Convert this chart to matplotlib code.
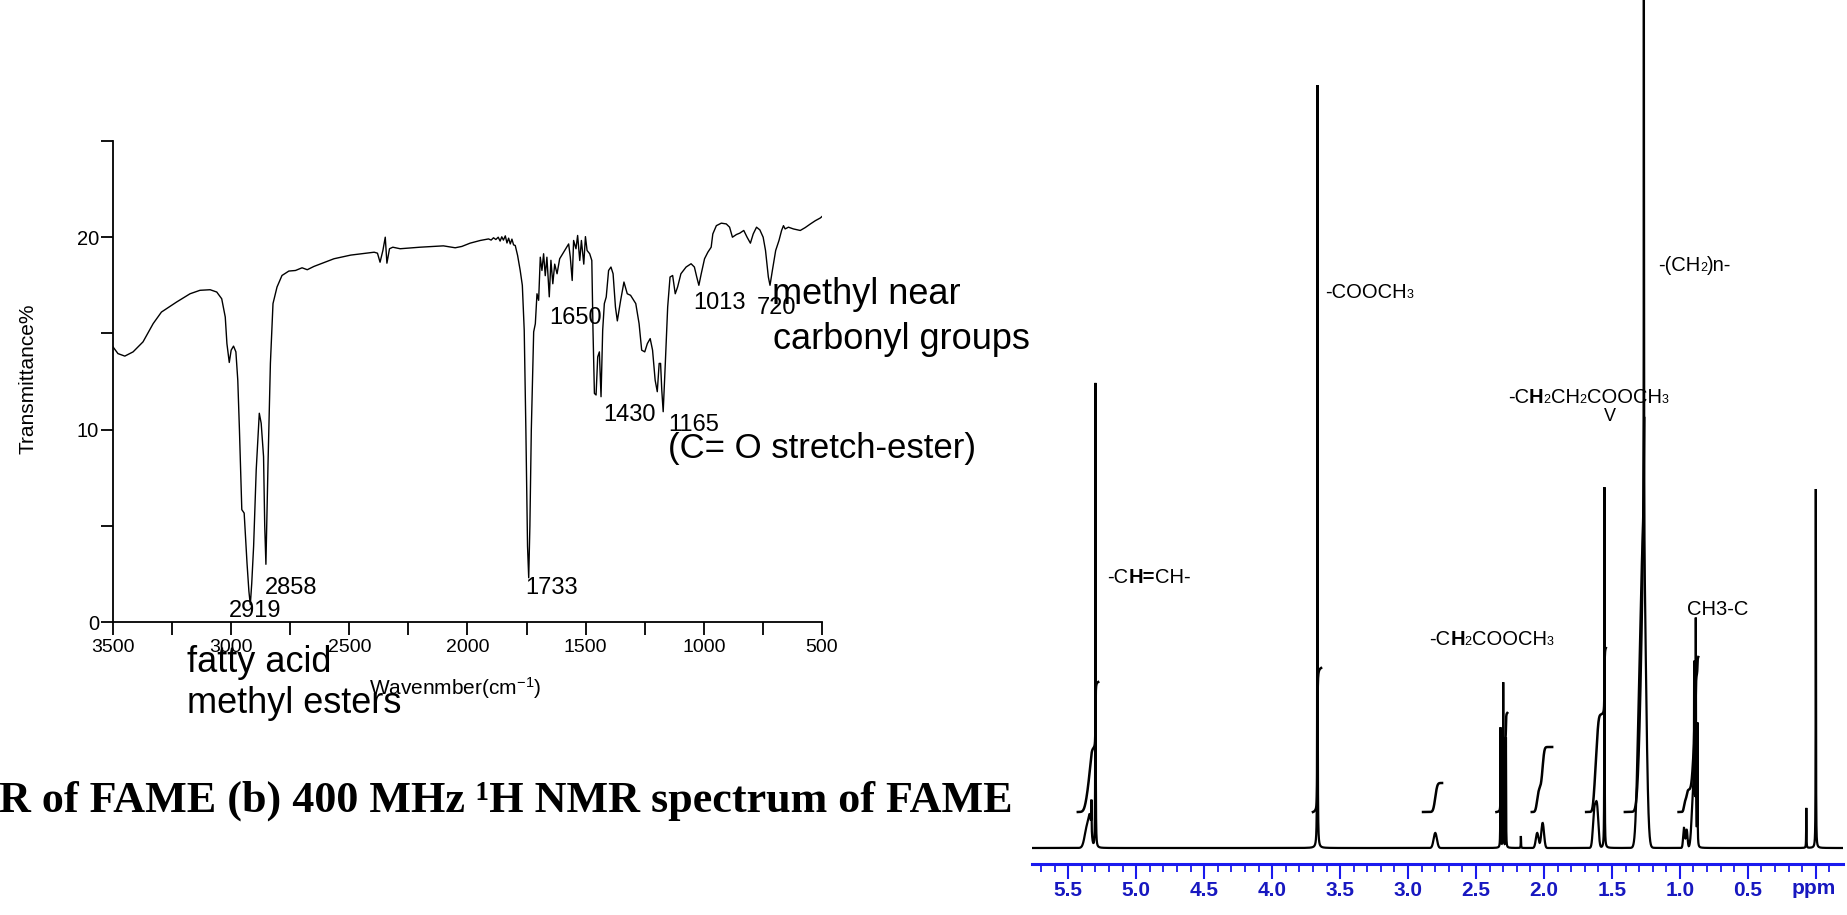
import numpy as np
import matplotlib
matplotlib.use("Agg")
import matplotlib.pyplot as plt
from matplotlib import font_manager
from matplotlib.transforms import IdentityTransform
from matplotlib.ticker import FixedLocator

W, H = 1847, 915
plt.rcParams['mathtext.fontset'] = 'custom'
plt.rcParams['mathtext.rm'] = 'Liberation Sans'
plt.rcParams['mathtext.it'] = 'Liberation Sans'

names = {f.name for f in font_manager.fontManager.ttflist}
SANS = 'Liberation Sans' if 'Liberation Sans' in names else 'DejaVu Sans'
NARROW = 'Liberation Sans Narrow' if 'Liberation Sans Narrow' in names else SANS
SERIF = 'Liberation Serif' if 'Liberation Serif' in names else 'DejaVu Serif'

# ---------------- IR data (wavenumber cm-1, transmittance %) ----------------
ir_wn = [3500, 3479, 3450, 3415, 3373, 3330, 3295, 3231, 3174, 3132, 3089, 3061, 3040,
         3025, 3018, 3008, 3000, 2990, 2980, 2972, 2965, 2955, 2945, 2933, 2925, 2919,
         2913, 2905, 2894, 2881, 2873, 2863, 2858, 2853, 2844, 2834, 2823, 2806, 2785,
         2756, 2728, 2700, 2678, 2650, 2565, 2494, 2395, 2381, 2370, 2358, 2348, 2341,
         2330, 2316, 2285, 2201, 2102, 2052, 2024, 1989, 1946, 1911, 1900, 1890, 1880,
         1870, 1862, 1855, 1848, 1840, 1833, 1826, 1819, 1812, 1805, 1798, 1788, 1777,
         1768, 1760, 1753, 1746, 1741, 1736, 1730, 1720, 1713, 1706, 1699, 1692, 1685,
         1678, 1671, 1664, 1654, 1647, 1639, 1631, 1621, 1610, 1593, 1572, 1565, 1557,
         1551, 1541, 1534, 1525, 1518, 1508, 1501, 1494, 1483, 1474, 1469, 1463, 1456,
         1449, 1442, 1435, 1428, 1421, 1413, 1403, 1393, 1384, 1374, 1366, 1352, 1338,
         1324, 1310, 1288, 1274, 1263, 1250, 1239, 1227, 1217, 1206, 1197, 1189, 1183,
         1178, 1172, 1163, 1153, 1143, 1132, 1121, 1111, 1097, 1075, 1054, 1040, 1030,
         1021, 1011, 997, 983, 969, 962, 947, 926, 905, 891, 879, 862, 848, 831, 817,
         803, 791, 777, 763, 749, 739, 727, 720, 710, 696, 682, 671, 663, 656, 642, 621,
         592, 571, 549, 528, 507, 496]
ir_t = [14.30, 13.95, 13.82, 14.04, 14.56, 15.51, 16.11, 16.63, 17.06, 17.24, 17.27, 17.15,
        16.80, 15.85, 14.47, 13.49, 14.13, 14.34, 14.04, 12.57, 9.98, 5.84, 5.66, 3.07,
        1.6, 0.9, 2.0, 3.94, 7.91, 10.85, 10.33, 8.6, 5.0, 3.0, 8.26, 13.44, 16.55, 17.41,
        18.01, 18.24, 18.27, 18.41, 18.31, 18.48, 18.88, 19.07, 19.22, 19.17, 18.7, 19.31,
        20.0, 18.65, 19.40, 19.48, 19.40, 19.48, 19.55, 19.45, 19.52, 19.69, 19.83, 19.91,
        19.85, 19.97, 19.88, 20.0, 19.8, 20.02, 19.85, 20.07, 19.7, 19.95, 19.65, 19.9,
        19.6, 19.57, 19.05, 18.27, 17.5, 15.16, 9.98, 3.94, 2.3, 5.0, 9.98, 15.08, 15.5,
        17.06, 16.72, 18.96, 18.27, 19.14, 18.0, 18.96, 16.9, 18.8, 17.58, 18.6, 18.1,
        18.88, 19.22, 19.65, 18.96, 17.75, 19.83, 19.40, 20.09, 18.79, 19.83, 18.6, 20.03,
        19.31, 19.14, 18.79, 15.16, 11.88, 11.8, 13.78, 14.04, 11.71, 15.16, 16.55, 16.89,
        18.27, 18.45, 18.1, 16.37, 15.65, 16.72, 17.67, 17.06, 16.98, 16.55, 15.51, 14.13,
        14.04, 14.47, 14.73, 14.13, 12.57, 11.97, 13.44, 13.44, 12.06, 10.93, 13.44, 16.37,
        17.93, 18.01, 17.06, 17.41, 18.1, 18.45, 18.62, 18.45, 17.93, 17.5, 18.1, 18.88,
        19.22, 19.48, 20.17, 20.6, 20.73, 20.69, 20.52, 20.0, 20.14, 20.21, 20.35, 20.0,
        19.69, 20.17, 20.52, 20.38, 20.0, 19.31, 17.93, 17.5, 18.27, 19.31, 19.83, 20.35,
        20.6, 20.43, 20.52, 20.43, 20.35, 20.5, 20.69, 20.86, 21.0, 21.12]

ir_xticks = [3500, 3000, 2500, 2000, 1500, 1000, 500]
ir_yticks = [0, 10, 20]
ir_peak_labels = ['2919', '2858', '1733', '1650', '1430', '1165', '1013', '720']

# ---------------- NMR data (ppm, height) ----------------
sharp_ppm = [5.300, 5.330, 3.667, 2.320, 2.300, 2.280, 2.170, 1.555, 1.265, 0.895, 0.883,
             0.871, 0.070, 0.000]
sharp_h = [465, 30, 763, 120, 165, 110, 12, 361, 560, 130, 206, 120, 40, 359]
broad_ppm = [5.36, 5.34, 2.80, 2.05, 2.01, 1.63, 1.61, 1.30, 1.268, 0.97, 0.95, 0.90]
broad_h = [22, 20, 15, 15, 25, 35, 40, 110, 290, 20, 18, 60]
broad_w = [0.018, 0.010, 0.012, 0.010, 0.010, 0.010, 0.010, 0.016, 0.018, 0.006, 0.006, 0.012]

# integrals: left ppm, right ppm, start height, end height
int_left = [5.43, 3.70, 2.89, 2.35, 2.09, 1.69, 1.405, 1.01]
int_right = [5.28, 3.64, 2.75, 2.27, 1.94, 1.545, 1.262, 0.865]
int_low = [36, 36, 36, 36, 36, 36, 36, 36]
int_high = [166, 180, 65, 135, 101, 200, 430, 191]

nmr_major = [5.5, 5.0, 4.5, 4.0, 3.5, 3.0, 2.5, 2.0, 1.5, 1.0, 0.5, 0.0]
nmr_major_labels = ['5.5', '5.0', '4.5', '4.0', '3.5', '3.0', '2.5', '2.0', '1.5', '1.0', '0.5', '']

caption = "R of FAME (b) 400 MHz \u00b9H NMR spectrum of FAME"

# ---------------- figure ----------------
fig = plt.figure(figsize=(W / 100, H / 100), dpi=100)
fig.patch.set_facecolor('white')
renderer = fig.canvas.get_renderer()


def fx(x):
    return x / W


def fy(y):
    return 1 - y / H


# IR axes
L, R, B, T = 113, 822, 622, 141
ax = fig.add_axes([fx(L), fy(B), (R - L) / W, (B - T) / H])
ax.plot(ir_wn, ir_t, color='black', lw=1.0)
ax.set_xlim(3500, 500)
ax.set_ylim(0, 25)
for s in ['top', 'right']:
    ax.spines[s].set_visible(False)
for s in ['left', 'bottom']:
    ax.spines[s].set_linewidth(1.3)
ax.set_xticks(ir_xticks)
ax.set_xticklabels([str(v) for v in ir_xticks])
ax.xaxis.set_minor_locator(FixedLocator([3250, 2750, 2250, 1750, 1250, 750]))
ax.set_yticks(ir_yticks)
ax.set_yticklabels([str(v) for v in ir_yticks])
ax.yaxis.set_minor_locator(FixedLocator([5, 15, 25]))
ax.tick_params(which='both', direction='out', length=9, width=1.3)
ax.tick_params(axis='x', which='major', labelsize=14, pad=3)
ax.tick_params(axis='y', which='major', labelsize=14.5, pad=1)
for lab in ax.get_xticklabels() + ax.get_yticklabels():
    lab.set_family(SANS)

fig.text(fx(28), fy(379), 'Transmittance%', rotation=90, ha='center', va='center',
         fontsize=15, family=SANS)
fig.text(fx(369), fy(695), 'Wavenmber(cm$^{-1}$)', ha='left', va='baseline',
         fontsize=15, family=SANS)

ann_pos = {'2919': (229, 611), '2858': (265, 588), '1733': (525, 588), '1650': (549, 318),
           '1430': (603, 415), '1165': (668, 425), '1013': (693, 303), '720': (757, 308)}
for lab in ir_peak_labels:
    x, y = ann_pos[lab]
    fig.text(fx(x), fy(y), lab, ha='left', va='center', fontsize=17, family=SANS)

big = 26
fig.text(fx(772), fy(304), 'methyl near', ha='left', va='baseline', fontsize=big, family=SANS)
fig.text(fx(773), fy(349), 'carbonyl groups', ha='left', va='baseline', fontsize=big, family=SANS)
fig.text(fx(668), fy(458), '(C= O stretch-ester)', ha='left', va='baseline', fontsize=25,
         family=SANS)
fig.text(fx(187), fy(672), 'fatty acid', ha='left', va='baseline', fontsize=big, family=SANS)
fig.text(fx(187), fy(713), 'methyl esters', ha='left', va='baseline', fontsize=big, family=SANS)

# caption fitted to the reference width
cap = fig.text(fx(-1), fy(812), caption, ha='left', va='baseline', fontsize=30,
               family=SERIF, fontweight='bold')
wcap = cap.get_window_extent(renderer).width
cap.set_fontsize(30 * 1014 / wcap)

# NMR axes
NL, NR, NB = 1031.6, 1843, 864
ax2 = fig.add_axes([fx(NL), fy(NB), (NR - NL) / W, NB / H])
ppm0, ppm1 = 5.77, -0.20
ax2.set_xlim(ppm0, ppm1)
ax2.set_ylim(-16, 848)
ppm = np.linspace(ppm0, ppm1, 80001)
spec = np.zeros_like(ppm)
wl = 0.0012
for c, h in zip(sharp_ppm, sharp_h):
    spec += h * wl ** 2 / ((ppm - c) ** 2 + wl ** 2)
for c, h, w in zip(broad_ppm, broad_h, broad_w):
    spec += h * np.exp(-0.5 * ((ppm - c) / w) ** 2)
ax2.plot(ppm, spec, color='black', lw=1.6, solid_joinstyle='miter')

for a, b, lo, hi in zip(int_left, int_right, int_low, int_high):
    m = (ppm <= a) & (ppm >= b)
    cs = np.cumsum(spec[m])
    cs = (cs - cs[0]) / (cs[-1] - cs[0])
    ax2.plot(ppm[m], lo + (hi - lo) * cs, color='black', lw=1.8)

for s in ['top', 'right', 'left']:
    ax2.spines[s].set_visible(False)
blue = '#1a1aee'
lblue = '#1818c0'
ax2.spines['bottom'].set_color(blue)
ax2.spines['bottom'].set_linewidth(2.2)
ax2.set_yticks([])
ax2.set_xticks(nmr_major)
ax2.set_xticklabels(nmr_major_labels)
ax2.xaxis.set_minor_locator(FixedLocator(np.round(np.arange(5.7, -0.15, -0.1), 2)))
ax2.tick_params(axis='x', which='major', direction='out', length=11, width=1.5, color=blue,
                labelsize=15, labelcolor=lblue, pad=1)
ax2.tick_params(axis='x', which='minor', direction='out', length=6, width=1.3, color=blue)
for lab in ax2.get_xticklabels():
    lab.set_family(NARROW)
    lab.set_fontweight('bold')
ax2.text(0.015, -31, 'ppm', transform=ax2.transData, ha='center', va='top', fontsize=15,
         family=NARROW, fontweight='bold', color=lblue)
ax2.set_facecolor('none')


def seg_text(x, ybase, segments, fs):
    xd = x
    for s, sc, wt in segments:
        t = fig.text(xd, H - ybase, s, transform=IdentityTransform(), ha='left',
                     va='baseline', fontsize=fs * sc, fontweight=wt, family=NARROW)
        xd = t.get_window_extent(renderer).x1


fs = 14.5
n, b, sub = 'normal', 'bold', 0.62
seg_text(1325, 298, [('-COOCH', 1, n), ('3', sub, n)], fs)
seg_text(1658, 271, [('-(CH', 1, n), ('2', sub, n), (')n-', 1, n)], fs)
seg_text(1508, 403, [('-C', 1, n), ('H', 1, b), ('2', sub, n), ('CH', 1, n), ('2', sub, n),
                     ('COOCH', 1, n), ('3', sub, n)], fs)
fig.text(1610, H - 421, 'V', transform=IdentityTransform(), ha='center', va='baseline',
         fontsize=13, family=NARROW)
seg_text(1107, 583, [('-C', 1, n), ('H=', 1, b), ('CH-', 1, n)], fs)
seg_text(1429, 645, [('-C', 1, n), ('H', 1, b), ('2', sub, n), ('COOCH', 1, n), ('3', sub, n)], fs)
seg_text(1687, 615, [('CH3-C', 1, n)], fs)

fig.savefig('out.png', dpi=100, facecolor='white')
